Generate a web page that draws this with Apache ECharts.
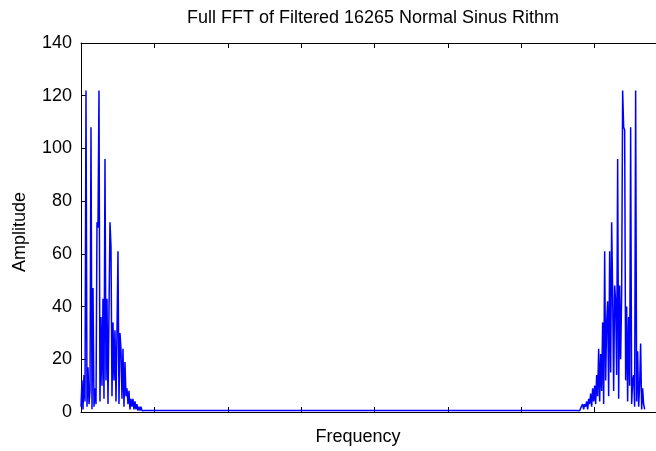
<!DOCTYPE html>
<html>
<head>
<meta charset="utf-8">
<script src="https://cdn.jsdelivr.net/npm/echarts@6/dist/echarts.min.js"></script>
<style>
html,body{margin:0;padding:0;background:#fff;}
#c{width:656px;height:451px;}
</style>
</head>
<body>
<div id="c"></div>
<script>
// ---- data ----
const titleText = 'Full FFT of Filtered 16265 Normal Sinus Rithm';
const xName = 'Frequency';
const yName = 'Amplitude';
const yTicks = [0, 20, 40, 60, 80, 100, 120, 140];
const xMax = 8000;          // frequency axis extent (bins)
const xTickStep = 1000;
const binStep = 13.62;      // spacing between listed samples (bins)
const lowStart = 0;         // first bin of low-frequency cluster
const highStart = 6769;     // first bin of mirrored high-frequency cluster
const baselineAmp = 0.6;    // near-zero floor between the clusters

const lowAmp = [2,12,1,14,4,122,2,17,3,8,108,1,47,2,9,3,72,70,122,4,36,10,43,5,96,12,43,3,38,72,63,6,34,12,31,4,30,61,3,30,24,5,24,2,19,6,9,3,8,1,5,2,5,1,4,1,3,0.5,2,0.5,2,0.5,1,0.5,0.6];
const highAmp = [0.5,1,0.5,1.5,1,3,1,3,2,4,1,5,3,7,2,9,4,10,3,14,6,24,4,22,8,34,3,61,12,34,42,6,61,15,72,45,8,48,42,14,96,5,48,20,45,122,108,107,12,40,4,36,10,108,3,12,14,2,122,4,23,2,10,26,1,9,3,1];

// ---- build series ----
const data = [];
lowAmp.forEach((a, i) => data.push([lowStart + i * binStep, a]));
data.push([lowStart + lowAmp.length * binStep, baselineAmp]);
data.push([highStart - binStep, baselineAmp]);
highAmp.forEach((a, i) => data.push([highStart + i * binStep, a]));

const font = 'Liberation Sans, Arial, sans-serif';
const axisCommon = {
  axisLine: {show: true, onZero: false, lineStyle: {color: '#000', width: 1}},
  axisTick: {show: true, inside: true, length: 5, lineStyle: {color: '#000', width: 1}},
  splitLine: {show: false}
};

const chart = echarts.init(document.getElementById('c'), null, {renderer: 'canvas'});
chart.setOption({
  animation: false,
  backgroundColor: '#fff',
  grid: {left: 81, top: 43, height: 369, width: 587, containLabel: false, outerBoundsMode: 'none'},
  xAxis: [
    Object.assign({type: 'value', min: 0, max: xMax, interval: xTickStep, position: 'bottom',
      axisLabel: {show: false}}, axisCommon),
    Object.assign({type: 'value', min: 0, max: xMax, interval: xTickStep, position: 'top',
      axisLabel: {show: false}}, axisCommon)
  ],
  yAxis: [
    Object.assign({type: 'value', min: yTicks[0], max: yTicks[yTicks.length - 1],
      interval: yTicks[1] - yTicks[0], position: 'left',
      axisLabel: {show: true, color: '#000', fontSize: 18, fontFamily: font, margin: 9}}, axisCommon),
    Object.assign({type: 'value', min: yTicks[0], max: yTicks[yTicks.length - 1],
      interval: yTicks[1] - yTicks[0], position: 'right',
      axisLabel: {show: false}}, axisCommon)
  ],
  series: [{
    type: 'line',
    data: data,
    symbol: 'none',
    clip: true,
    lineStyle: {color: '#0000ff', width: 1.5},
    z: 3
  }],
  graphic: [
    {type: 'text', x: 373, y: 18,
      style: {text: titleText, align: 'center', verticalAlign: 'middle',
        fill: '#000', font: '18px ' + font}},
    {type: 'text', x: 358, y: 437,
      style: {text: xName, align: 'center', verticalAlign: 'middle', fill: '#000', font: '18px ' + font}},
    {type: 'text', x: 20, y: 232, rotation: Math.PI / 2,
      style: {text: yName, align: 'center', verticalAlign: 'middle', fill: '#000', font: '18px ' + font}}
  ]
});
</script>
</body>
</html>
